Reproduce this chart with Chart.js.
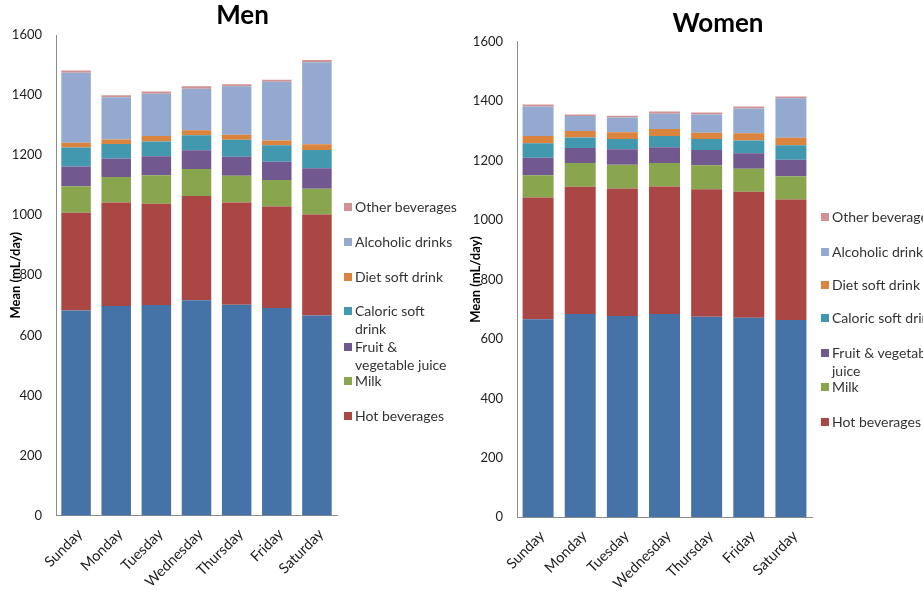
<!DOCTYPE html>
<html><head><meta charset="utf-8">
<script src="https://cdn.jsdelivr.net/npm/chart.js@4"></script>
<style>
html,body{margin:0;padding:0;width:923px;height:591px;overflow:hidden;background:#fff;font-family:Lato,sans-serif;}
.wrap{position:absolute;top:0;}
.leg{position:absolute;font-size:14px;line-height:18px;color:#333;white-space:nowrap;font-family:Lato,sans-serif;}
.leg i{position:absolute;left:-11px;top:5px;width:8px;height:8px;}
</style></head>
<body>
<div class="wrap" style="left:0;width:485px;height:591px"><canvas id="men" width="485" height="591"></canvas></div>
<div class="wrap" style="left:460px;width:516px;height:591px"><canvas id="women" width="516" height="591"></canvas></div>
<div id="legends"></div>
<script>
const days = ['Sunday','Monday','Tuesday','Wednesday','Thursday','Friday','Saturday'];
const seriesNames = ['Water','Hot beverages','Milk','Fruit & vegetable juice','Caloric soft drink','Diet soft drink','Alcoholic drinks','Other beverages'];
const yTicks = [0,200,400,600,800,1000,1200,1400,1600];

const menWater    = [683,698,701,717,702,691,666];
const menHot      = [325,344,337,347,340,338,336];
const menMilk     = [88,85,95,90,89,88,86];
const menJuice    = [66,62,63,62,64,61,68];
const menCaloric  = [63,48,49,50,56,55,61];
const menDiet     = [16,15,19,17,17,16,19];
const menAlcohol  = [233,141,140,138,161,195,273];
const menOther    = [8,6,8,8,7,7,8];

const womenWater   = [666,684,677,684,675,671,664];
const womenHot     = [410,428,429,429,429,424,405];
const womenMilk    = [75,80,80,79,80,78,78];
const womenJuice   = [59,50,52,53,52,52,56];
const womenCaloric = [48,36,35,38,37,43,49];
const womenDiet    = [25,22,22,23,21,24,25];
const womenAlcohol = [99,50,50,52,61,83,133];
const womenOther   = [7,5,6,7,7,7,6];

const colors = ['#4572A7','#AA4643','#89A54E','#71588F','#4198AF','#DB843D','#93A9CF','#D19392'];

function buildChart(id, title, series, cfg){
  const datasets = series.map((d,i)=>({
    label: seriesNames[i], data: d, backgroundColor: colors[i], borderWidth:0,
    categoryPercentage:1, barPercentage:0.735
  }));
  return new Chart(document.getElementById(id), {
    type:'bar',
    data:{labels:days, datasets},
    options:{
      responsive:false, animation:false,
      layout:{padding:0},
      plugins:{
        legend:{display:false}, tooltip:{enabled:false},
        title:{display:true,text:title,color:'#000',
          font:{family:'Lato',size:26,weight:'bold'},
          padding:{top:cfg.titleTop,bottom:cfg.titleBottom}}
      },
      scales:{
        x:{stacked:true,
          grid:{display:false,drawTicks:false},
          border:{display:true,color:'#8c8c8c'},
          ticks:{autoSkip:false,maxRotation:45,minRotation:45,color:'#222',
            font:{family:'Lato',size:14.5},padding:10,labelOffset:4},
          afterFit:s=>{s.height=cfg.xHeight;}
        },
        y:{stacked:true,min:0,max:1600,
          grid:{display:false,drawTicks:false},
          border:{display:true,color:'#8c8c8c'},
          afterBuildTicks:s=>{s.ticks=yTicks.map(v=>({value:v}));},
          ticks:{color:'#222',font:{family:'Lato',size:13},padding:14,
            callback:v=>String(v)},
          title:{display:true,text:'Mean (mL/day)',color:'#000',
            font:{family:'Lato',size:13,weight:'bold'},padding:{top:8,bottom:0}},
          afterFit:s=>{s.width=cfg.yWidth;}
        },
        space:{position:'right',display:true,
          grid:{display:false,drawTicks:false},
          border:{display:false},
          ticks:{display:false},
          afterFit:s=>{s.width=cfg.padRight;}
        }
      }
    }
  });
}

buildChart('men','Men',[menWater,menHot,menMilk,menJuice,menCaloric,menDiet,menAlcohol,menOther],
  {padRight:148,titleTop:0,titleBottom:3.8,xHeight:75.5,yWidth:56});
buildChart('women','Women',[womenWater,womenHot,womenMilk,womenJuice,womenCaloric,womenDiet,womenAlcohol,womenOther],
  {padRight:164,titleTop:8,titleBottom:2.5,xHeight:73.7,yWidth:57});

// HTML legends (Water has no entry in the reference)
const legendLayouts = [
  {x:355, items:[
    [7,206.7,'Other beverages'],[6,241.7,'Alcoholic drinks'],[5,276.7,'Diet soft drink'],
    [4,310.7,'Caloric soft<br>drink'],[3,346.7,'Fruit &amp;<br>vegetable juice'],[2,381,'Milk'],[1,416,'Hot beverages']]},
  {x:832, items:[
    [7,216.7,'Other beverages'],[6,251.7,'Alcoholic drinks'],[5,285,'Diet soft drink'],
    [4,318.3,'Caloric soft drink'],[3,353.3,'Fruit &amp; vegetable<br>juice'],[2,387.3,'Milk'],[1,421.7,'Hot beverages']]}
];
const host = document.getElementById('legends');
legendLayouts.forEach(L=>{
  L.items.forEach(([si,cy,txt])=>{
    const d=document.createElement('div');
    d.className='leg';
    d.style.left=L.x+'px';
    d.style.top=(cy-9)+'px';
    d.innerHTML='<i style="background:'+colors[si]+'"></i>'+txt;
    host.appendChild(d);
  });
});
</script>
</body></html>
